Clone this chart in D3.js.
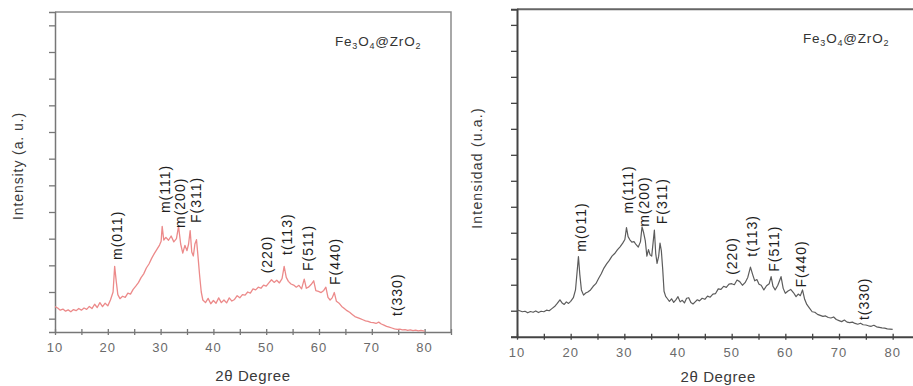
<!DOCTYPE html>
<html>
<head>
<meta charset="utf-8">
<script src="https://cdn.jsdelivr.net/npm/d3@7"></script>
<style>
  html, body { margin: 0; padding: 0; background: #fff; }
  svg { display: block; font-family: "Liberation Sans", Arial, sans-serif; }
</style>
</head>
<body>
<svg id="chart" width="913" height="386"></svg>
<script>
// XRD patterns of Fe3O4@ZrO2: two-theta angle (degrees) and intensity (arbitrary units)
const leftAngles = [10,10.5,11,11.5,12,12.5,13,13.5,14,14.5,15,15.5,16,16.5,17,17.5,18,18.5,19,19.5,20,20.5,21,21.3,21.6,21.9,22.3,22.8,23.3,23.8,24.3,24.8,25.3,25.8,26.3,26.8,27.3,27.8,28.3,28.8,29.3,29.8,30.1,30.3,30.6,31,31.5,32,32.5,33,33.4,33.8,34.2,34.6,35,35.3,35.6,35.9,36.2,36.5,36.8,37.1,37.4,37.7,38,38.5,39,39.5,40,40.5,41,41.5,42,42.5,43,43.5,44,44.5,45,45.5,46,46.5,47,47.5,48,48.5,49,49.5,50,50.5,51,51.5,52,52.5,53,53.4,53.8,54.2,54.7,55.2,55.7,56.2,56.7,57.2,57.6,58,58.5,59,59.4,59.9,60.4,60.9,61.3,61.7,62.1,62.5,62.9,63.3,63.8,64.3,64.8,65.3,65.8,66.3,66.8,67.3,67.8,68.3,68.8,69.3,69.8,70.3,70.8,71.3,71.8,72.3,72.8,73.3,73.8,74.3,74.8,75.3,75.8,76.3,76.8,77.3,77.8,78.3,78.8,79.3,80];
const leftIntensity = [9.5,9,8.2,8.6,7.8,8.3,7.6,8.4,8,8.8,8.2,9,8.5,9.6,8.8,10.4,9.2,11,9.5,10.8,9.8,12,15,24.6,19,14,12.5,13.4,13,14.6,14.2,16,17.2,18.5,20.4,21.8,24,25.5,27.6,29.4,31,32.6,34,39.6,34.5,35.5,34.4,36,33.8,35,39.6,33,29.6,32.5,30.5,33,38,30,28.5,33,34.6,28,21,15,12,11,12.6,10.6,11.8,10.8,12.8,11,12,10.9,12.8,11.6,12.2,13.6,12.8,14,13.8,15,14.6,16.2,15.8,16.8,16.4,17.6,17.2,18.4,19.6,18.6,19.4,18.4,20,24.6,20.5,19,18,17.6,16.8,17.5,16.2,19.8,16.4,16.8,17.8,19.2,15.5,15.2,14.8,15.6,16.8,13,12,12.8,14.8,11.5,10.8,9.6,8.8,8,7.4,6.6,5.8,5.4,5,4.6,4.2,4,3.6,3.5,3.2,3.7,3,2.6,2.1,1.8,1.5,1.2,1,1.1,0.8,0.9,0.6,0.8,0.5,0.7,0.4,0.6,0.3];

const rightAngles = [10,10.5,11,11.5,12,12.5,13,13.5,14,14.5,15,15.5,16,16.5,17,17.5,18,18.4,18.8,19.2,19.6,20,20.5,20.9,21.2,21.45,21.7,22,22.4,22.8,23.2,23.7,24.2,24.7,25.2,25.7,26.2,26.7,27.2,27.7,28.2,28.7,29.2,29.7,30.1,30.4,30.7,31,31.4,31.8,32.2,32.6,33,33.3,33.6,33.9,34.2,34.5,34.8,35.1,35.35,35.6,35.85,36.1,36.4,36.65,36.9,37.15,37.4,37.7,38,38.4,38.8,39.2,39.6,40,40.4,40.8,41.2,41.6,42,42.4,42.8,43.2,43.6,44,44.5,45,45.5,46,46.5,47,47.5,48,48.5,49,49.5,50,50.5,51,51.5,52,52.5,53,53.5,53.9,54.3,54.7,55.1,55.5,56,56.5,57,57.35,57.7,58.1,58.6,59.2,59.6,60,60.5,61,61.5,62,62.4,62.8,63.2,63.6,64,64.5,65,65.5,66,66.5,67,67.5,68,68.5,69,69.5,70,70.5,71,71.5,72,72.5,73,73.5,74,74.5,75,75.5,76,76.5,77,77.5,78,78.5,79,79.5,80];
const rightIntensity = [10.3,10,9.6,9.8,9.2,9.7,9.4,9.9,9.3,9.8,9.6,10.2,10,10.8,11.6,12.8,14.2,13,12.4,13.4,12.8,13.6,15,18,25,30.8,24,18,16,16.8,17.2,18,19.4,20.4,22.4,24.2,26.4,28,29.4,31,32,33.4,34.6,36,37.4,42,38.5,37.4,36.4,36.6,35.4,34.5,36.5,42.3,40,37,31,33.5,31.5,31,36,41,32,28.2,31,36,33,26,17.5,15.5,14.7,13.6,14.6,13.2,14.2,15.4,13.4,14,13,14.8,15,13.2,12.6,13.4,14.2,13.8,14.8,14.4,15.6,15.2,16.4,16.6,18.4,18.2,19.4,19,20.2,20.4,20,21.8,21.2,19.8,20.8,22.8,26.8,24,21.5,22,20.2,19.8,18,19.6,20.4,23.1,19.4,18,19.8,23.1,18.6,16.7,17.6,18.2,17,15.4,16.4,15.8,18,14.4,12.4,11,9.6,9.4,8.6,8.2,7.8,8,7.4,7.2,7.6,6.6,6.2,5.8,6.4,5.6,5.4,5.6,5.1,4.8,5.2,4.6,4.5,4.2,4,4.4,3.8,3.6,3.4,3.3,3,2.9,2.8];

// Reflection labels: text, angle of the reflection, intensity where the label starts
const peakLabels = ["m(011)","m(111)","m(200)","F(311)","(220)","t(113)","F(511)","F(440)","t(330)"];
const leftPeakAngles = [21.8,30.9,33.7,36.7,50.2,54.0,57.9,63.1,74.8];
const leftLabelBase = [27,44.6,39,40.9,22,28.9,22.9,17.6,6];
const rightPeakAngles = [21.9,30.7,33.7,37.1,50.1,53.7,57.8,63.0,74.7];
const rightLabelBase = [32.7,47.4,42.3,43.3,23.8,30.8,25,18.9,6.4];

const xTickValues = [10,15,20,25,30,35,40,45,50,55,60,65,70,75,80,85];
const xTickLabels = [10,20,30,40,50,60,70,80];
const leftYTicks = [5,15,25,35,45,55,65,75,85,95,105,115];
const rightYTicks = [0,10,20,30,40,50,60,70,80,90,100,110,120];

const svg = d3.select("#chart");

function drawPanel(opt) {
  const g = svg.append("g");
  const x = d3.scaleLinear().domain([10, 85]).range([opt.left, opt.right]);
  const y = d3.scaleLinear().domain([0, opt.yMax]).range([opt.bottom, opt.top]);

  // frame (top and right edges)
  g.append("path")
    .attr("d", `M${opt.left},${opt.top}H${opt.right}V${opt.bottom}`)
    .attr("fill", "none").attr("stroke", opt.frameColor).attr("stroke-width", opt.frameWidth);

  // x axis
  const xAxis = d3.axisBottom(x).tickValues(xTickValues).tickSize(0).tickFormat("");
  const gx = g.append("g").attr("transform", `translate(0,${opt.bottom})`).call(xAxis);
  gx.select(".domain").attr("stroke", opt.axisColor).attr("stroke-width", opt.frameWidth);
  gx.selectAll(".tick line").remove();
  gx.selectAll(".tick").append("line")
    .attr("y1", -3).attr("y2", 3)
    .attr("stroke", opt.axisColor).attr("stroke-width", 1.3);
  g.append("g").selectAll("text").data(xTickLabels).join("text")
    .attr("x", d => x(d)).attr("y", opt.bottom + 20)
    .attr("text-anchor", "middle")
    .attr("font-size", 13).attr("letter-spacing", 1)
    .attr("fill", "#6a6a6a")
    .text(d => d);

  // y axis
  const yAxis = d3.axisLeft(y).tickValues(opt.yTicks).tickSize(6).tickFormat("");
  const gy = g.append("g").attr("transform", `translate(${opt.left},0)`).call(yAxis);
  gy.select(".domain").attr("stroke", opt.axisColor).attr("stroke-width", opt.frameWidth);
  gy.selectAll(".tick line").attr("stroke", opt.axisColor).attr("stroke-width", 1.3);

  // pattern
  const pts = opt.angles.map((a, i) => [a, opt.values[i]]);
  const line = d3.line().x(d => x(d[0])).y(d => y(d[1]));
  g.append("path").datum(pts)
    .attr("d", line)
    .attr("fill", "none")
    .attr("stroke", opt.lineColor)
    .attr("stroke-width", opt.lineWidth)
    .attr("stroke-linejoin", "round");

  // reflection labels
  g.append("g").selectAll("text").data(peakLabels).join("text")
    .attr("transform", (d, i) => `translate(${x(opt.peakAngles[i])},${y(opt.labelBase[i])}) rotate(-90)`)
    .attr("dy", "0.36em")
    .attr("font-size", 14).attr("letter-spacing", 1)
    .attr("fill", "#1e1e1e")
    .text(d => d);

  // compound name
  const t = g.append("text")
    .attr("x", opt.nameX).attr("y", opt.nameY)
    .attr("font-size", 13.5).attr("letter-spacing", 0.8)
    .attr("fill", "#333");
  const parts = [["Fe", false], ["3", true], ["O", false], ["4", true], ["@ZrO", false], ["2", true]];
  parts.forEach(([s, sub]) => {
    const ts = t.append("tspan").text(s);
    if (sub) ts.attr("font-size", 9).attr("dy", 3);
    else ts.attr("dy", 0);
  });
  // reset baseline after subscripts
  t.selectAll("tspan").each(function(d, i) {
    const prevSub = i > 0 && parts[i - 1][1];
    if (!parts[i][1] && prevSub) d3.select(this).attr("dy", -3);
  });

  // axis titles
  g.append("text")
    .attr("x", (opt.left + opt.right) / 2).attr("y", opt.xTitleY)
    .attr("text-anchor", "middle")
    .attr("font-size", 15).attr("letter-spacing", 0.6)
    .attr("fill", "#3a3a3a")
    .text("2θ Degree");
  g.append("text")
    .attr("transform", `translate(${opt.yTitleX},${opt.yTitleY}) rotate(-90)`)
    .attr("text-anchor", "middle")
    .attr("font-size", 14).attr("letter-spacing", opt.yTitleSpacing)
    .attr("fill", "#3a3a3a")
    .text(opt.yTitle);
}

drawPanel({
  left: 55, right: 451, top: 12, bottom: 332, yMax: 120,
  yTicks: leftYTicks,
  angles: leftAngles, values: leftIntensity,
  peakAngles: leftPeakAngles, labelBase: leftLabelBase,
  lineColor: "#ec8a8a", lineWidth: 1.3,
  frameColor: "#8c8c8c", axisColor: "#777", frameWidth: 1.5,
  nameX: 335, nameY: 46,
  xTitleY: 381, yTitle: "Intensity (a. u.)", yTitleX: 23, yTitleY: 166, yTitleSpacing: 0.9
});

drawPanel({
  left: 517, right: 919.5, top: 9.3, bottom: 336.7, yMax: 126,
  yTicks: rightYTicks,
  angles: rightAngles, values: rightIntensity,
  peakAngles: rightPeakAngles, labelBase: rightLabelBase,
  lineColor: "#5c5c5c", lineWidth: 1.2,
  frameColor: "#666", axisColor: "#444", frameWidth: 2,
  nameX: 803, nameY: 43,
  xTitleY: 382, yTitle: "Intensidad (u.a.)", yTitleX: 482, yTitleY: 168, yTitleSpacing: 1.2
});
</script>
</body>
</html>
